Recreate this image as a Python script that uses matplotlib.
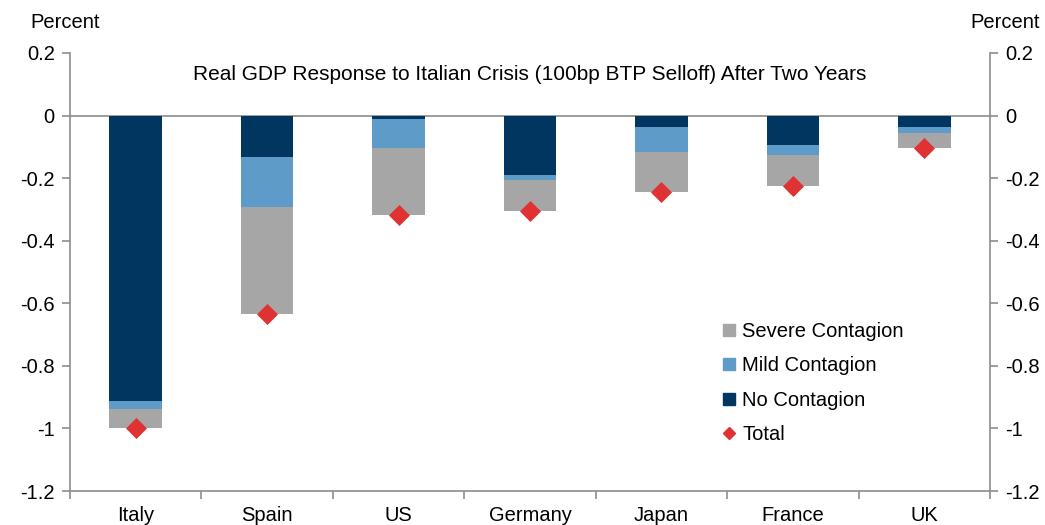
import matplotlib
matplotlib.use("Agg")
import matplotlib.pyplot as plt
from matplotlib.lines import Line2D
import numpy as np

plt.rcParams['font.family'] = ['Liberation Sans', 'DejaVu Sans']

countries = ["Italy", "Spain", "US", "Germany", "Japan", "France", "UK"]
no_contagion = [-0.911, -0.131, -0.011, -0.189, -0.035, -0.093, -0.035]
mild_contagion = [-0.027, -0.160, -0.093, -0.017, -0.081, -0.032, -0.020]
severe_contagion = [-0.060, -0.342, -0.215, -0.099, -0.129, -0.099, -0.050]
total = [-0.998, -0.634, -0.319, -0.305, -0.245, -0.224, -0.105]
yticks = [0.2, 0, -0.2, -0.4, -0.6, -0.8, -1, -1.2]
ytick_labels = ["0.2", "0", "-0.2", "-0.4", "-0.6", "-0.8", "-1", "-1.2"]

c_no = "#003660"
c_mild = "#5F9BC8"
c_sev = "#A6A6A6"
c_tot = "#E03232"
gray = "#8C8C8C"

fig = plt.figure(figsize=(10.45, 5.25), dpi=100)
ax = fig.add_axes([70/1045, 1-491/525, 920/1045, 438/525])

x = np.arange(len(countries))
w = 0.40
no = np.array(no_contagion)
mild = np.array(mild_contagion)
sev = np.array(severe_contagion)
ax.bar(x, no, w, color=c_no, zorder=2)
ax.bar(x, mild, w, bottom=no, color=c_mild, zorder=2)
ax.bar(x, sev, w, bottom=no + mild, color=c_sev, zorder=2)
ax.scatter(x, total, marker='D', s=115, color=c_tot, zorder=3, linewidths=0)

ax.axhline(0, color=gray, lw=1.2, zorder=1)
ax.set_xlim(-0.5, len(countries) - 0.5)
ax.set_ylim(-1.2, 0.2)

ax.set_yticks(yticks)
ax.set_yticklabels(ytick_labels)
ax.tick_params(axis='y', which='both', left=True, right=True, labelleft=True, labelright=True,
               direction='out', length=6, width=1.2, color=gray, labelsize=14.5, pad=5)

ax.set_xticks(x)
ax.set_xticklabels(countries)
ax.set_xticks(np.arange(len(countries) + 1) - 0.5, minor=True)
ax.tick_params(axis='x', which='major', length=0, labelsize=14.5, pad=11)
ax.tick_params(axis='x', which='minor', length=6, width=1.2, color=gray, direction='out')

for s in ['left', 'right', 'bottom']:
    ax.spines[s].set_color(gray)
    ax.spines[s].set_linewidth(1.2)
ax.spines['top'].set_visible(False)

ax.text(0.5, 1 - (74 - 53) / 438, "Real GDP Response to Italian Crisis (100bp BTP Selloff) After Two Years",
        transform=ax.transAxes, ha='center', va='center', fontsize=15)

fig.text(65/1045, 1-23/525, "Percent", ha='center', va='center', fontsize=14.5)
fig.text(1005/1045, 1-23/525, "Percent", ha='center', va='center', fontsize=14.5)

handles = [
    Line2D([], [], marker='s', color=c_sev, linestyle='none', markersize=8),
    Line2D([], [], marker='s', color=c_mild, linestyle='none', markersize=8),
    Line2D([], [], marker='s', color=c_no, linestyle='none', markersize=8),
    Line2D([], [], marker='D', color=c_tot, linestyle='none', markersize=6.5),
]
labels = ["Severe Contagion", "Mild Contagion", "No Contagion", "Total"]
ax.legend(handles, labels, loc='upper left', bbox_to_anchor=((715 - 70) / 920, (491 - 314) / 438),
          frameon=False, fontsize=14.5, handlelength=0.6, handletextpad=0.35, labelspacing=0.76,
          borderaxespad=0)

fig.savefig("out.png", dpi=100)
